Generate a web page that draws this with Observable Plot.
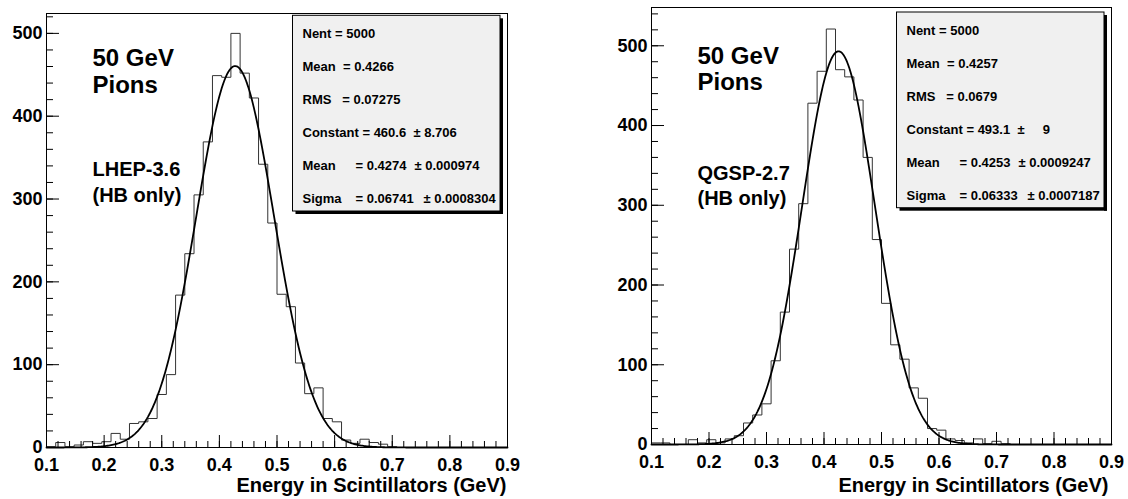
<!DOCTYPE html>
<html><head><meta charset="utf-8">
<script src="https://cdn.jsdelivr.net/npm/d3@7"></script>
<script src="https://cdn.jsdelivr.net/npm/@observablehq/plot@0.6"></script>
<style>
body{margin:0;background:#fff;}
#wrap{position:relative;width:1128px;height:499px;overflow:hidden;background:#fff;}
#wrap svg{position:absolute;top:0;}
</style></head><body><div id="wrap"></div>
<script>
// ---- data ----
const xDomain = [0.1, 0.9];
const binCount = 50;
const lhepCounts = [1,6,1,3,7,5,7,17,10,29,31,35,64,88,184,234,305,369,449,447,500,452,422,342,271,185,170,102,65,72,35,31,9,5,10,6,4,1,0,0,0,0,0,0,0,0,0,0,0,0];
const qgspCounts = [2,2,0,0,6,2,6,2,7,11,27,37,51,105,166,245,302,428,468,521,470,461,432,360,257,177,125,107,71,58,20,18,7,5,2,7,1,4,1,0,0,0,0,0,0,0,0,0,0,0];
const lhepFit = {constant: 460.6, mean: 0.4274, sigma: 0.06741};
const qgspFit = {constant: 493.1, mean: 0.4253, sigma: 0.06333};
const xTicks = [0.1,0.2,0.3,0.4,0.5,0.6,0.7,0.8,0.9];
const yTicks = [0,100,200,300,400,500];
const xTitle = "Energy in Scintillators (GeV)";
const lhepNotes = ["50 GeV","Pions","LHEP-3.6","(HB only)"];
const qgspNotes = ["50 GeV","Pions","QGSP-2.7","(HB only)"];
const lhepStats = [["Nent = 5000"],["Mean  = 0.4266"],["RMS   = 0.07275"],["Constant = 460.6","± 8.706"],["Mean","= 0.4274","± 0.000974"],["Sigma","= 0.06741","± 0.0008304"]];
const qgspStats = [["Nent = 5000"],["Mean  = 0.4257"],["RMS   = 0.0679"],["Constant = 493.1","±     9"],["Mean","= 0.4253","± 0.0009247"],["Sigma","= 0.06333","± 0.0007187"]];

const FONT = "'Liberation Sans', Arial, Helvetica, sans-serif";
const H = 499;

function statsMark(rows, boxTop) {
  return (index, scales, values, dims) => {
    const g = d3.create("svg:g")
      .style("font-family", FONT).style("font-weight", "bold").style("font-size", "13px");
    const w = 207.5, h = 195.7, s = 3;
    const right = dims.width - dims.marginRight - 7;
    const left = right - w;
    const top = dims.marginTop + boxTop;
    g.append("rect").attr("x", left + w).attr("y", top + s).attr("width", s).attr("height", h)
      .style("fill", "#000").style("stroke", "none");
    g.append("rect").attr("x", left + s).attr("y", top + h).attr("width", w).attr("height", s)
      .style("fill", "#000").style("stroke", "none");
    g.append("rect").attr("x", left).attr("y", top).attr("width", w).attr("height", h)
      .style("fill", "#f0f0f0").style("stroke", "#000").style("stroke-width", "1px");
    const colsFit = {3: [10, 121], 4: [10, 63, 122], 5: [10, 63, 131]};
    rows.forEach((r, i) => {
      const cols = r.length === 1 ? [10] : (colsFit[i] || [10, 63, 122]);
      r.forEach((t, j) => {
        g.append("text").attr("x", left + cols[j]).attr("y", top + 22.5 + i * 33)
          .style("text-anchor", "start").style("fill", "#000").style("white-space", "pre")
          .attr("xml:space", "preserve").text(t);
      });
    });
    return g.node();
  };
}

function histPlot(cfg) {
  const {counts, fit, yMax, stats, notes, noteLayout, width, mL, mR, mT, mB, boxTop, titleDy, titleDx, labelPad} = cfg;
  const fw = width - mL - mR, fh = H - mT - mB;
  const edges = d3.range(binCount + 1).map(i => xDomain[0] + i * (xDomain[1] - xDomain[0]) / binCount);
  const steps = [{x: edges[0], y: 0}, ...counts.map((c, i) => ({x: edges[i], y: c})), {x: edges[binCount], y: counts[binCount - 1]}];
  const curve = d3.range(0, 401).map(i => {
    const x = xDomain[0] + i * 0.002;
    return {x, y: fit.constant * Math.exp(-0.5 * ((x - fit.mean) / fit.sigma) ** 2)};
  });
  const minorX = d3.range(0, 41).map(i => xDomain[0] + i * 0.02);
  const minorY = d3.range(0, yMax, 20);
  const noteMarks = notes.map((t, i) => Plot.text([t], {
    text: d => d, frameAnchor: "top-left", dx: noteLayout[i][0], dy: noteLayout[i][1],
    textAnchor: "start", lineAnchor: "bottom", fontSize: noteLayout[i][2], fontWeight: "bold", fill: "#000"
  }));
  return Plot.plot({
    width, height: H,
    marginLeft: mL, marginRight: mR, marginTop: mT, marginBottom: mB,
    style: {fontFamily: FONT, fontWeight: "bold", background: "transparent", overflow: "visible"},
    x: {domain: xDomain, axis: null},
    y: {domain: [0, yMax], axis: null},
    marks: [
      Plot.line(steps, {x: "x", y: "y", curve: "step-after", stroke: "#333", strokeWidth: 1}),
      Plot.line(curve, {x: "x", y: "y", stroke: "#000", strokeWidth: 1.8}),
      Plot.tickX(minorX, {x: d => d, insetTop: fh - 6, stroke: "#000", strokeWidth: 1}),
      Plot.tickX(xTicks, {x: d => d, insetTop: fh - 12, stroke: "#000", strokeWidth: 1}),
      Plot.tickY(minorY, {y: d => d, insetRight: fw - 7, stroke: "#000", strokeWidth: 1}),
      Plot.tickY(yTicks, {y: d => d, insetRight: fw - 13, stroke: "#000", strokeWidth: 1}),
      Plot.frame({stroke: "#000", strokeWidth: 1}),
      Plot.axisX(xTicks, {tickSize: 0, tickPadding: labelPad, fontSize: 18, label: null, tickFormat: d => d.toFixed(1), fill: "#000"}),
      Plot.axisY(yTicks, {tickSize: 0, tickPadding: 4, fontSize: 18, label: null, tickFormat: d => String(d), fill: "#000"}),
      Plot.text([xTitle], {text: d => d, frameAnchor: "bottom-right", dx: titleDx, dy: titleDy, textAnchor: "end", lineAnchor: "bottom", fontSize: 20, fontWeight: "bold", fill: "#000"}),
      ...noteMarks,
      statsMark(stats, boxTop)
    ]
  });
}

const wrap = document.getElementById("wrap");
const p1 = histPlot({counts: lhepCounts, fit: lhepFit, yMax: 524, stats: lhepStats, notes: lhepNotes,
  noteLayout: [[46, 52, 24], [46, 79, 24], [46, 162, 20], [46, 188, 20]],
  width: 560, mL: 46, mR: 53, mT: 13, mB: 52, boxTop: 2.3, titleDy: 44, titleDx: -1, labelPad: 11});
p1.style.left = "0px";
wrap.appendChild(p1);
const p2 = histPlot({counts: qgspCounts, fit: qgspFit, yMax: 548, stats: qgspStats, notes: qgspNotes,
  noteLayout: [[46, 56, 24], [46, 82, 24], [46, 172, 20], [46, 197, 20]],
  width: 564, mL: 87, mR: 17, mT: 7, mB: 55, boxTop: 5, titleDy: 47, titleDx: -3, labelPad: 11});
p2.style.left = "564px";
wrap.appendChild(p2);
</script></body></html>
